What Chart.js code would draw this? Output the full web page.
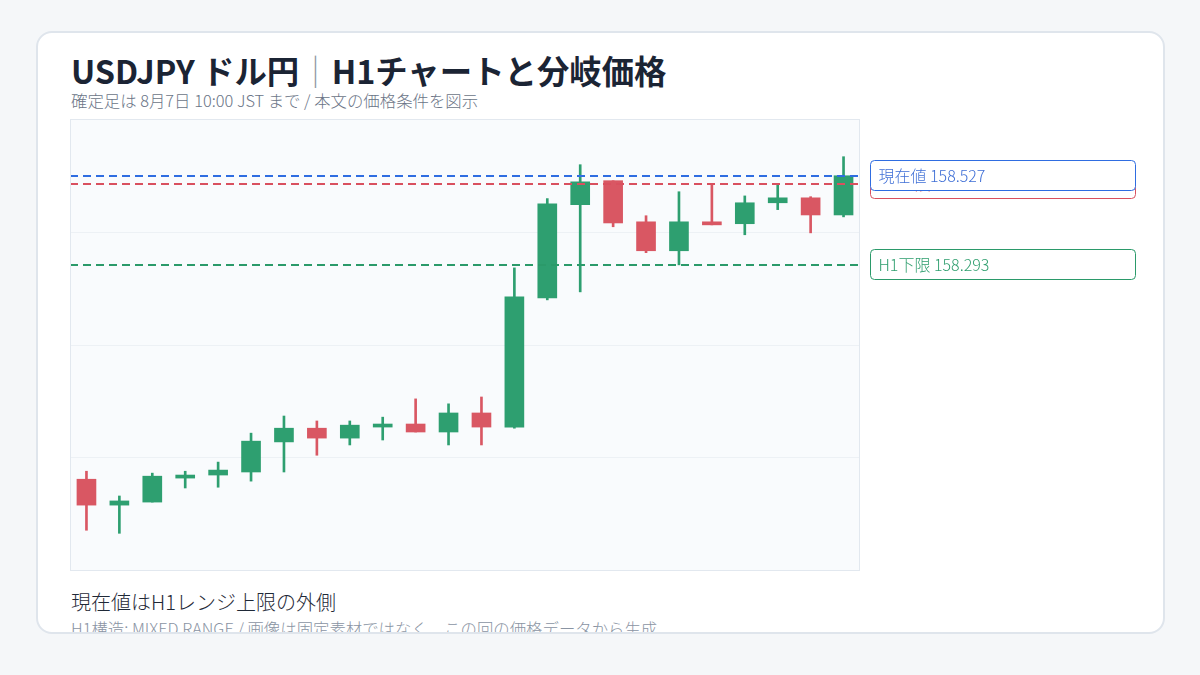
<!DOCTYPE html>
<html lang="ja">
<head>
<meta charset="utf-8">
<script src="https://cdn.jsdelivr.net/npm/chart.js@4.4.1/dist/chart.umd.min.js"></script>
<style>
  html, body { margin:0; padding:0; }
  body { width:1200px; height:675px; background:#f5f7f9; position:relative; overflow:hidden;
         font-family:"Noto Sans CJK JP","Noto Sans",sans-serif; }
  #card { position:absolute; left:36px; top:31px; width:1125px; height:599px; background:#fff;
          border:2px solid #dfe5ec; border-radius:16px; overflow:hidden; }
  .t { position:absolute; white-space:nowrap; }
  #title { left:33px; top:15px; font-size:32.4px; font-weight:700; color:#1b2434; line-height:44px; }
  #title .sep { color:#8d96a4; font-weight:300; }
  #sub { left:33px; top:57px; font-size:16.4px; color:#6b7587; line-height:20px; font-weight:300; }
  #foot1 { left:33px; top:555px; font-size:20px; color:#1f2937; line-height:28px; font-weight:300; }
  #foot2 { left:33px; top:585px; font-size:16.4px; color:#8a94a3; line-height:20px; font-weight:300; }
  #wrap { position:absolute; left:32px; top:86px; width:1080px; height:452px; }
</style>
</head>
<body>
<div id="card">
  <div id="title" class="t">USDJPY ドル円<span class="sep">｜</span>H1チャートと分岐価格</div>
  <div id="sub" class="t">確定足は 8月7日 10:00 JST まで / 本文の価格条件を図示</div>
  <div id="wrap"><canvas id="c"></canvas></div>
  <div id="foot1" class="t">現在値はH1レンジ上限の外側</div>
  <div id="foot2" class="t">H1構造: MIXED RANGE / 画像は固定素材ではなく、この回の価格データから生成</div>
</div>
<script>
const labels = ["1","2","3","4","5","6","7","8","9","10","11","12","13","14","15","16","17","18","19","20","21","22","23","24"];
const opens  = [157.730,157.662,157.670,157.733,157.741,157.749,157.828,157.864,157.838,157.867,157.875,157.854,157.904,157.867,158.206,158.451,158.514,158.406,158.330,158.406,158.401,158.456,158.469,158.424];
const highs  = [157.751,157.686,157.746,157.751,157.775,157.851,157.896,157.883,157.883,157.893,157.941,157.928,157.946,158.285,158.467,158.556,158.514,158.422,158.485,158.506,158.474,158.506,158.472,158.577];
const lows   = [157.596,157.588,157.670,157.707,157.709,157.725,157.749,157.793,157.820,157.833,157.854,157.820,157.820,157.864,158.201,158.222,158.393,158.325,158.293,158.398,158.372,158.438,158.377,158.419];
const closes = [157.662,157.673,157.738,157.741,157.754,157.830,157.864,157.838,157.872,157.875,157.854,157.904,157.867,158.209,158.453,158.511,158.403,158.330,158.406,158.398,158.456,158.469,158.424,158.527];
const levelNames  = ["H1上限","H1下限","現在値"];
const levelValues = [158.506, 158.293, 158.527];
const levelColors = ["#d9505f","#2b9a6a","#2f6de1"];
const levelText   = ["#d9505f","#2e9e6e","#3f6fd6"];
const yMin = 157.489, yMax = 158.676;

const UP = "#2e9f70", DOWN = "#d95763";
const candleColors = opens.map((o,i)=> closes[i] >= o ? UP : DOWN);
const bodies = opens.map((o,i)=> {
  const lo = Math.min(o, closes[i]), hi = Math.max(o, closes[i]);
  return hi - lo < 0.008 ? [lo - 0.001, lo + 0.007] : [lo, hi];
});
const wicks = lows.map((l,i)=> [l, highs[i]]);

const bgPlugin = {
  id:'bg',
  beforeDraw(chart){
    const {ctx, chartArea:a} = chart;
    ctx.save();
    ctx.fillStyle = "#f9fbfd";
    ctx.fillRect(a.left, a.top, a.right-a.left, a.bottom-a.top);
    ctx.restore();
  },
  afterDraw(chart){
    const {ctx, chartArea:a} = chart;
    ctx.save();
    ctx.strokeStyle = "#e2e8ef"; ctx.lineWidth = 1;
    ctx.strokeRect(a.left+0.5, a.top+0.5, a.right-a.left-1, a.bottom-a.top-1);
    ctx.restore();
  }
};
const levelPlugin = {
  id:'levels',
  afterDatasetsDraw(chart){
    const {ctx, chartArea:a, scales:{y}} = chart;
    ctx.save();
    levelValues.forEach((v,i)=>{
      const py = Math.round(y.getPixelForValue(v));
      ctx.strokeStyle = levelColors[i]; ctx.lineWidth = 2; ctx.setLineDash([8,5]);
      ctx.beginPath(); ctx.moveTo(a.left, py); ctx.lineTo(a.right, py); ctx.stroke();
    });
    ctx.setLineDash([]);
    levelValues.forEach((v,i)=>{
      const py = Math.round(y.getPixelForValue(v));
      const bx = a.right + 10.5, bw = 265, bh = 30, by = py - 16 + 0.5;
      ctx.fillStyle = "#ffffff"; ctx.strokeStyle = levelColors[i]; ctx.lineWidth = 1;
      ctx.beginPath(); ctx.roundRect(bx, by, bw, bh, 4); ctx.fill(); ctx.stroke();
      ctx.fillStyle = levelText[i];
      ctx.font = '300 16px "Noto Sans CJK JP"';
      ctx.textBaseline = 'middle';
      ctx.fillText(levelNames[i] + " " + levelValues[i].toFixed(3), bx + 8, by + bh/2 + 0.5);
    });
    ctx.restore();
  }
};

new Chart(document.getElementById('c'), {
  type:'bar',
  data:{
    labels,
    datasets:[
      { data: wicks, backgroundColor: candleColors, barThickness: 2, grouped:false, order:2, borderWidth:0 },
      { data: bodies, backgroundColor: candleColors, barThickness: 19, grouped:false, order:1, borderWidth:0 }
    ]
  },
  options:{
    responsive:true, maintainAspectRatio:false, animation:false,
    layout:{ padding:{ left:0, right:290, top:0, bottom:0 } },
    plugins:{ legend:{display:false}, tooltip:{enabled:false} },
    scales:{
      x:{ display:false, offset:true },
      y:{ min:yMin, max:yMax, display:true,
          ticks:{ display:false, count:5 },
          grid:{ color:"#edf1f5", drawTicks:false, lineWidth:1 },
          border:{ display:false } }
    }
  },
  plugins:[bgPlugin, levelPlugin]
});
</script>
</body>
</html>
